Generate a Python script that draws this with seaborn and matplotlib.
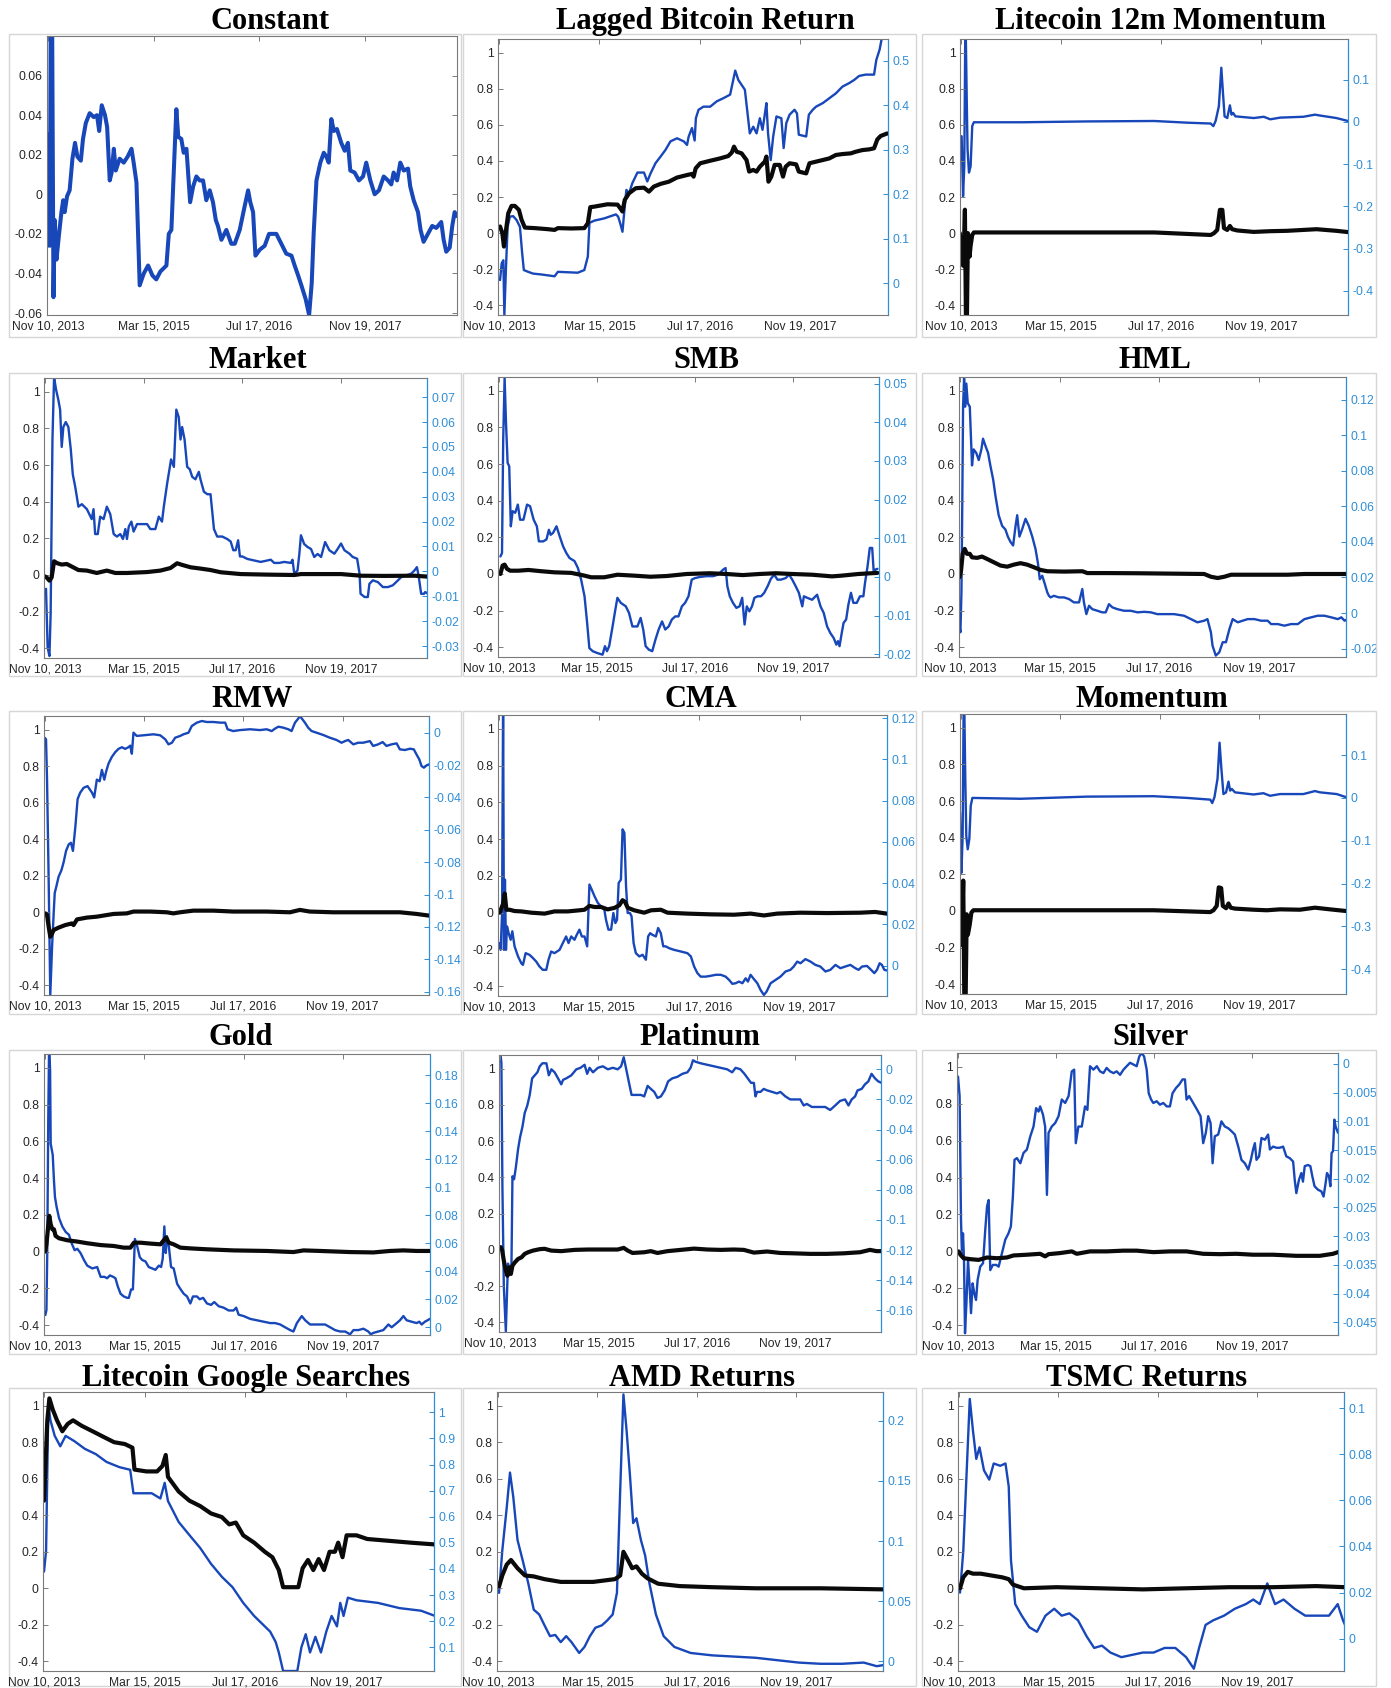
import matplotlib
matplotlib.use("Agg")
import matplotlib.pyplot as plt
import matplotlib.dates as mdates
from matplotlib.patches import Rectangle
from matplotlib.ticker import FuncFormatter
import pandas as pd
import seaborn as sns

# ---------------------------------------------------------------------------
# Data: (days since 10 Nov 2013, value) for every plotted series.
# "_left" series use the left axis (black), "_right" the right axis (blue).
# ---------------------------------------------------------------------------
START = pd.Timestamp("2013-11-10")
DATE_TICKS_DAYS = [0, 490, 980, 1470]
X_SPAN_DAYS = (-5, 1897)

constant_left = [
    (-8, 0.031), (-3, -0.026), (3, 0.028), (8, -0.026), (12, 0.085), (19, 0.085), (25, -0.052),
    (31, -0.013), (39, -0.033), (51, -0.020), (62, -0.009), (70, -0.003), (77, -0.009), (88, -0.001),
    (100, 0.002), (113, 0.018), (125, 0.026), (136, 0.019), (152, 0.017), (162, 0.028), (175, 0.036),
    (193, 0.041), (212, 0.039), (227, 0.040), (237, 0.032), (249, 0.045), (264, 0.040), (274, 0.034),
    (286, 0.007), (295, 0.011), (305, 0.023), (314, 0.012), (332, 0.018), (351, 0.016), (369, 0.019),
    (387, 0.023), (397, 0.016), (410, 0.006), (425, -0.046), (444, -0.040), (464, -0.036),
    (484, -0.041), (502, -0.043), (521, -0.039), (549, -0.036), (560, -0.020), (572, -0.018),
    (584, 0.014), (595, 0.043), (604, 0.029), (618, 0.028), (629, 0.021), (642, 0.023), (651, 0.009),
    (659, -0.004), (673, 0.004), (688, 0.009), (703, 0.007), (719, 0.007), (734, -0.003), (750, 0.002),
    (765, -0.004), (778, -0.013), (788, -0.016), (804, -0.023), (827, -0.018), (850, -0.025),
    (866, -0.025), (889, -0.018), (912, -0.006), (928, 0.002), (938, -0.004), (951, -0.009),
    (962, -0.031), (982, -0.028), (1005, -0.026), (1025, -0.020), (1059, -0.020), (1082, -0.025),
    (1105, -0.030), (1129, -0.031), (1144, -0.036), (1160, -0.041), (1175, -0.046), (1195, -0.053),
    (1211, -0.061), (1223, -0.045), (1232, -0.020), (1245, 0.007), (1263, 0.016), (1279, 0.021),
    (1291, 0.019), (1302, 0.016), (1314, 0.038), (1326, 0.032), (1340, 0.033), (1360, 0.026),
    (1376, 0.022), (1391, 0.026), (1402, 0.012), (1422, 0.011), (1442, 0.007), (1461, 0.009),
    (1476, 0.016), (1495, 0.007), (1515, 0.000), (1535, 0.002), (1557, 0.009), (1577, 0.007),
    (1592, 0.005), (1603, 0.011), (1619, 0.007), (1634, 0.016), (1650, 0.012), (1670, 0.013),
    (1680, 0.004), (1696, -0.003), (1716, -0.009), (1728, -0.018), (1742, -0.024), (1762, -0.020),
    (1782, -0.016), (1801, -0.017), (1824, -0.014), (1835, -0.023), (1847, -0.029), (1863, -0.027),
    (1875, -0.016), (1886, -0.009), (1897, -0.011),
]

lagged_btc_left = [
    (5, 0.037), (16, 0.0), (24, -0.074), (32, 0.0), (45, 0.11), (61, 0.151), (77, 0.151), (97, 0.129),
    (110, 0.074), (126, 0.031), (174, 0.028), (239, 0.022), (271, 0.018), (287, 0.028), (352, 0.026),
    (416, 0.028), (433, 0.055), (445, 0.144), (465, 0.147), (529, 0.16), (578, 0.158), (591, 0.138),
    (602, 0.12), (613, 0.184), (634, 0.221), (667, 0.249), (707, 0.252), (731, 0.23), (755, 0.258),
    (788, 0.273), (828, 0.285), (868, 0.308), (917, 0.322), (941, 0.328), (949, 0.313), (959, 0.359),
    (981, 0.387), (1030, 0.401), (1078, 0.414), (1118, 0.427), (1135, 0.446), (1146, 0.479),
    (1159, 0.451), (1183, 0.442), (1207, 0.405), (1220, 0.341), (1240, 0.35), (1256, 0.341),
    (1272, 0.368), (1296, 0.396), (1304, 0.424), (1314, 0.285), (1328, 0.313), (1344, 0.378),
    (1369, 0.378), (1385, 0.313), (1398, 0.368), (1417, 0.387), (1449, 0.381), (1462, 0.341),
    (1498, 0.331), (1514, 0.387), (1546, 0.396), (1579, 0.405), (1611, 0.414), (1643, 0.433),
    (1675, 0.438), (1716, 0.442), (1740, 0.451), (1772, 0.46), (1805, 0.464), (1829, 0.47),
    (1845, 0.519), (1861, 0.538), (1893, 0.552),
]
lagged_btc_right = [
    (5, 0.0075), (13, 0.045), (21, 0.052), (26, -0.071), (34, 0.037), (42, 0.127), (53, 0.15),
    (69, 0.151), (86, 0.142), (102, 0.127), (113, 0.067), (121, 0.03), (142, 0.026), (166, 0.022),
    (207, 0.020), (239, 0.018), (271, 0.016), (287, 0.026), (336, 0.025), (384, 0.024), (416, 0.030),
    (433, 0.06), (441, 0.136), (465, 0.141), (513, 0.146), (570, 0.155), (581, 0.15), (591, 0.135),
    (602, 0.116), (610, 0.157), (621, 0.21), (634, 0.202), (650, 0.225), (675, 0.249), (707, 0.249),
    (723, 0.229), (739, 0.247), (763, 0.27), (788, 0.285), (812, 0.30), (836, 0.319), (868, 0.326),
    (901, 0.319), (917, 0.311), (925, 0.33), (941, 0.349), (954, 0.321), (960, 0.371), (973, 0.39),
    (997, 0.397), (1030, 0.397), (1062, 0.409), (1094, 0.416), (1127, 0.424), (1139, 0.45),
    (1152, 0.478), (1167, 0.457), (1183, 0.446), (1199, 0.435), (1210, 0.39), (1223, 0.337),
    (1240, 0.352), (1256, 0.337), (1272, 0.371), (1285, 0.345), (1296, 0.379), (1304, 0.405),
    (1312, 0.337), (1325, 0.277), (1337, 0.33), (1353, 0.375), (1377, 0.371), (1388, 0.304),
    (1401, 0.36), (1417, 0.379), (1441, 0.39), (1453, 0.382), (1462, 0.334), (1498, 0.33),
    (1511, 0.379), (1530, 0.39), (1546, 0.397), (1579, 0.405), (1611, 0.416), (1643, 0.427),
    (1675, 0.442), (1708, 0.45), (1732, 0.457), (1756, 0.466), (1788, 0.469), (1829, 0.469),
    (1840, 0.502), (1856, 0.525), (1866, 0.549), (1885, 0.551),
]

ltc_mom12_left = [
    (-6, 0.0), (10, -0.18), (15, -0.04), (19, 0.13), (24, -0.46), (29, -0.46), (34, 0.0), (42, -0.13),
    (47, -0.07), (55, -0.01), (63, 0.004), (948, 0.004), (1224, -0.01), (1240, 0.0), (1256, 0.018),
    (1269, 0.129), (1281, 0.129), (1289, 0.028), (1305, 0.018), (1318, 0.04), (1329, 0.022),
    (1354, 0.015), (1435, 0.007), (1516, 0.011), (1597, 0.013), (1743, 0.022), (1840, 0.013),
    (1897, 0.006),
]
ltc_mom12_right = [
    (3, -0.034), (10, -0.176), (16, -0.105), (21, 0.22), (23, 0.22), (28, 0.053), (32, -0.065),
    (39, -0.12), (47, -0.105), (55, -0.01), (63, -0.001), (299, -0.001), (623, 0.001), (948, 0.002),
    (1110, -0.002), (1224, -0.004), (1237, -0.01), (1248, 0.002), (1264, 0.037), (1276, 0.128),
    (1284, 0.069), (1292, 0.013), (1305, 0.009), (1318, 0.039), (1326, 0.017), (1334, 0.021),
    (1345, 0.013), (1435, 0.009), (1484, 0.012), (1516, 0.006), (1565, 0.01), (1678, 0.012),
    (1735, 0.017), (1759, 0.015), (1840, 0.009), (1897, 0.002),
]

market_left = [
    (-8, -0.004), (8, -0.013), (22, -0.031), (33, -0.013), (45, 0.075), (61, 0.064), (83, 0.057),
    (108, 0.06), (133, 0.046), (166, 0.027), (208, 0.024), (257, 0.011), (307, 0.024), (349, 0.011),
    (407, 0.011), (507, 0.016), (573, 0.024), (623, 0.038), (656, 0.064), (681, 0.055), (723, 0.042),
    (772, 0.035), (822, 0.027), (872, 0.015), (972, 0.005), (1105, 0.002), (1238, 0.0), (1271, 0.005),
    (1354, 0.005), (1470, 0.005), (1570, -0.004), (1686, -0.005), (1835, -0.004), (1902, -0.009),
]
market_right = [
    (-3, -0.0083), (5, -0.007), (13, -0.0305), (22, -0.034), (28, -0.017), (37, 0.053), (45, 0.078),
    (55, 0.073), (66, 0.069), (75, 0.065), (83, 0.05), (91, 0.058), (103, 0.06), (116, 0.058),
    (128, 0.049), (138, 0.039), (150, 0.034), (166, 0.026), (183, 0.027), (208, 0.025), (232, 0.021),
    (241, 0.025), (249, 0.015), (262, 0.015), (274, 0.022), (291, 0.021), (307, 0.026), (324, 0.023),
    (341, 0.015), (357, 0.014), (374, 0.015), (387, 0.013), (399, 0.017), (407, 0.013), (416, 0.018),
    (429, 0.02), (440, 0.016), (457, 0.019), (482, 0.019), (507, 0.019), (523, 0.017), (548, 0.017),
    (565, 0.022), (581, 0.02), (590, 0.026), (606, 0.035), (626, 0.045), (640, 0.042), (652, 0.065),
    (664, 0.062), (673, 0.053), (681, 0.058), (693, 0.053), (706, 0.042), (719, 0.041), (731, 0.038),
    (747, 0.037), (764, 0.04), (772, 0.037), (789, 0.032), (806, 0.031), (822, 0.031), (839, 0.017),
    (855, 0.014), (880, 0.014), (905, 0.013), (922, 0.012), (935, 0.0085), (947, 0.0085),
    (959, 0.0125), (968, 0.006), (980, 0.006), (1005, 0.005), (1038, 0.0044), (1071, 0.0038),
    (1105, 0.0044), (1121, 0.0047), (1138, 0.0034), (1163, 0.0034), (1188, 0.0038), (1221, 0.0034),
    (1229, 0.0047), (1238, -0.001), (1254, 0.0004), (1263, 0.007), (1271, 0.0145), (1287, 0.011),
    (1304, 0.0098), (1321, 0.009), (1337, 0.0058), (1354, 0.007), (1371, 0.0058), (1391, 0.0118),
    (1412, 0.0085), (1437, 0.0071), (1454, 0.0091), (1470, 0.0112), (1487, 0.0085), (1512, 0.0071),
    (1528, 0.0058), (1550, 0.0051), (1562, -0.0009), (1567, -0.009), (1587, -0.0103),
    (1603, -0.0103), (1611, -0.005), (1628, -0.0036), (1653, -0.0043), (1678, -0.0063),
    (1703, -0.0063), (1727, -0.0056), (1744, -0.0043), (1769, -0.0023), (1794, -0.0016),
    (1819, -0.0009), (1835, 0.0004), (1847, 0.0017), (1855, -0.0016), (1868, -0.009), (1882, -0.009),
    (1888, -0.0083), (1902, -0.009),
]

smb_left = [
    (7, 0.0), (18, 0.046), (28, 0.051), (40, 0.028), (56, 0.018), (97, 0.018), (147, 0.022),
    (212, 0.015), (278, 0.009), (361, 0.006), (427, -0.009), (460, -0.018), (525, -0.018),
    (591, -0.004), (674, -0.009), (756, -0.015), (838, -0.011), (937, 0.0), (1052, 0.004), (1135, 0.0),
    (1217, -0.006), (1300, 0.0), (1382, 0.004), (1464, 0.0), (1563, -0.004), (1662, -0.013),
    (1711, -0.009), (1794, 0.0), (1889, 0.006),
]
smb_right = [
    (7, 0.0053), (15, 0.0062), (21, 0.0355), (28, 0.0515), (35, 0.0398), (43, 0.0295), (51, 0.0286),
    (59, 0.0131), (68, 0.017), (81, 0.0166), (94, 0.0187), (105, 0.0148), (122, 0.0148),
    (140, 0.0187), (155, 0.0183), (173, 0.0148), (189, 0.0131), (199, 0.0092), (221, 0.0092),
    (237, 0.0097), (249, 0.0122), (258, 0.0109), (270, 0.0114), (287, 0.0131), (303, 0.0105),
    (320, 0.0079), (336, 0.0062), (352, 0.0049), (377, 0.0041), (394, 0.0023), (410, -0.0007),
    (427, -0.005), (440, -0.0119), (451, -0.0184), (468, -0.0192), (492, -0.0197), (517, -0.0201),
    (529, -0.0179), (539, -0.0192), (550, -0.0179), (567, -0.0128), (578, -0.0093), (591, -0.0054),
    (608, -0.0067), (633, -0.0076), (649, -0.0093), (666, -0.0128), (691, -0.0128), (707, -0.0106),
    (720, -0.0136), (732, -0.0179), (748, -0.0188), (765, -0.0192), (781, -0.0162), (797, -0.0136),
    (814, -0.0115), (830, -0.0136), (847, -0.0128), (863, -0.011), (880, -0.0102), (896, -0.0102),
    (913, -0.0076), (929, -0.0067), (946, -0.005), (962, -0.0007), (978, -0.0003), (1003, 0.0),
    (1036, 0.0002), (1069, 0.0002), (1094, 0.0006), (1119, 0.0019), (1131, 0.0023),
    (1140, -0.0024), (1152, -0.005), (1168, -0.0067), (1185, -0.008), (1201, -0.0076),
    (1214, -0.0054), (1226, -0.0123), (1237, -0.0076), (1250, -0.0089), (1263, -0.0076),
    (1275, -0.0054), (1291, -0.005), (1308, -0.005), (1324, -0.0041), (1341, -0.0024),
    (1357, -0.0005), (1374, 0.0006), (1390, -0.0007), (1407, -0.0007), (1431, -0.0003),
    (1448, 0.0006), (1464, -0.0007), (1481, -0.0024), (1497, -0.0041), (1514, -0.0076),
    (1522, -0.005), (1539, -0.0054), (1563, -0.0059), (1588, -0.0046), (1605, -0.0076),
    (1621, -0.0093), (1638, -0.0128), (1654, -0.0145), (1671, -0.0158), (1684, -0.0175),
    (1692, -0.0166), (1700, -0.0179), (1711, -0.0145), (1720, -0.0119), (1733, -0.011),
    (1744, -0.0072), (1757, -0.0041), (1769, -0.0067), (1786, -0.0067), (1802, -0.005),
    (1819, -0.005), (1827, -0.0016), (1840, 0.0028), (1851, 0.0075), (1863, 0.0075), (1871, 0.001),
    (1879, 0.0019), (1889, 0.0021),
]

hml_left = [
    (-3, -0.018), (5, 0.018), (13, 0.11), (23, 0.137), (34, 0.11), (48, 0.11), (59, 0.091),
    (84, 0.088), (108, 0.095), (133, 0.082), (166, 0.064), (199, 0.046), (232, 0.04), (264, 0.051),
    (297, 0.059), (330, 0.051), (363, 0.037), (396, 0.022), (429, 0.015), (511, 0.013), (601, 0.015),
    (626, 0.005), (724, 0.005), (872, 0.004), (1036, 0.002), (1200, 0.0), (1233, -0.015),
    (1266, -0.022), (1299, -0.015), (1332, -0.004), (1447, -0.004), (1611, -0.004), (1693, 0.0),
    (1901, 0.0),
]
hml_right = [
    (-3, -0.0071), (2, -0.0108), (7, 0.0116), (11, 0.0602), (15, 0.116), (20, 0.132), (25, 0.116),
    (31, 0.129), (38, 0.118), (48, 0.116), (54, 0.098), (59, 0.083), (67, 0.092), (80, 0.09),
    (92, 0.086), (105, 0.092), (113, 0.098), (125, 0.094), (138, 0.09), (149, 0.083), (163, 0.075),
    (174, 0.066), (190, 0.055), (207, 0.049), (223, 0.047), (235, 0.043), (248, 0.04), (261, 0.038),
    (273, 0.049), (281, 0.055), (292, 0.043), (305, 0.047), (322, 0.053), (338, 0.049), (355, 0.043),
    (371, 0.036), (383, 0.028), (392, 0.019), (404, 0.021), (415, 0.017), (429, 0.0116),
    (437, 0.0097), (445, 0.0088), (461, 0.0097), (486, 0.0088), (511, 0.0088), (535, 0.0079),
    (560, 0.006), (585, 0.006), (601, 0.0135), (609, 0.006), (621, -0.0006), (634, 0.0041),
    (650, 0.0022), (675, 0.0013), (699, 0.0004), (716, 0.0004), (732, 0.005), (749, 0.0032),
    (773, 0.0022), (806, 0.0013), (839, 0.0013), (872, 0.0004), (905, 0.0007), (938, 0.0004),
    (970, -0.0006), (1003, -0.0006), (1052, -0.0006), (1101, -0.0015), (1135, -0.0034),
    (1167, -0.0052), (1200, -0.0043), (1216, -0.0034), (1233, -0.0108), (1241, -0.0183),
    (1257, -0.0239), (1274, -0.0221), (1291, -0.0164), (1307, -0.0164), (1324, -0.009),
    (1340, -0.0034), (1365, -0.0052), (1389, -0.0043), (1414, -0.0034), (1447, -0.0034),
    (1480, -0.0043), (1512, -0.0043), (1529, -0.0062), (1562, -0.0062), (1594, -0.0071),
    (1627, -0.0062), (1660, -0.0062), (1693, -0.0034), (1726, -0.0024), (1758, -0.0015),
    (1791, -0.0015), (1824, -0.0024), (1857, -0.0034), (1874, -0.0024), (1890, -0.0043),
    (1901, -0.0037),
]

rmw_left = [
    (2, -0.006), (10, -0.015), (18, -0.079), (26, -0.134), (35, -0.116), (43, -0.097), (67, -0.084),
    (100, -0.07), (133, -0.061), (141, -0.07), (158, -0.039), (207, -0.029), (256, -0.024),
    (289, -0.018), (339, -0.009), (404, -0.006), (437, 0.004), (520, 0.004), (602, 0.0),
    (634, -0.006), (667, 0.0), (733, 0.009), (832, 0.009), (930, 0.004), (1095, 0.004), (1210, 0.0),
    (1259, 0.013), (1308, 0.004), (1424, 0.0), (1588, 0.0), (1753, 0.0), (1835, -0.009),
    (1896, -0.018),
]
rmw_right = [
    (-2, -0.0031), (5, -0.0041), (10, -0.0289), (18, -0.0907), (26, -0.1619), (35, -0.132),
    (43, -0.111), (48, -0.099), (56, -0.095), (67, -0.089), (81, -0.085), (92, -0.08), (104, -0.073),
    (117, -0.069), (128, -0.068), (138, -0.073), (150, -0.058), (161, -0.041), (174, -0.037),
    (191, -0.034), (210, -0.033), (232, -0.037), (243, -0.04), (256, -0.029), (270, -0.03),
    (281, -0.023), (293, -0.029), (302, -0.024), (314, -0.019), (330, -0.015), (347, -0.012),
    (363, -0.01), (380, -0.009), (396, -0.01), (412, -0.009), (421, -0.008), (429, -0.013),
    (437, 0.0), (453, -0.002), (487, -0.0016), (536, -0.001), (569, -0.0016), (594, -0.0041),
    (610, -0.0072), (627, -0.0062), (643, -0.0031), (668, -0.002), (684, -0.001), (709, 0.0),
    (725, 0.0041), (750, 0.0062), (775, 0.0072), (799, 0.0066), (832, 0.0066), (865, 0.0062),
    (890, 0.0062), (902, 0.0021), (930, 0.001), (963, 0.0016), (1013, 0.0021), (1062, 0.0016),
    (1095, 0.0021), (1120, 0.001), (1136, 0.0025), (1153, 0.0037), (1177, 0.0031), (1202, 0.0021),
    (1218, 0.001), (1235, 0.0062), (1251, 0.0087), (1259, 0.0103), (1272, 0.0082), (1284, 0.0062),
    (1300, 0.0031), (1317, 0.001), (1341, 0.0), (1374, -0.0014), (1407, -0.0031), (1440, -0.0045),
    (1465, -0.0062), (1482, -0.0052), (1498, -0.0045), (1523, -0.0072), (1547, -0.0062),
    (1572, -0.0062), (1605, -0.0052), (1621, -0.0082), (1646, -0.0072), (1668, -0.0058),
    (1687, -0.0082), (1712, -0.0072), (1737, -0.0066), (1753, -0.0103), (1778, -0.0107),
    (1803, -0.0099), (1822, -0.0103), (1835, -0.0134), (1849, -0.0165), (1860, -0.0206),
    (1872, -0.0216), (1885, -0.0202), (1896, -0.0196),
]

cma_left = [
    (3, 0.0), (20, 0.049), (28, 0.104), (36, 0.016), (52, 0.016), (76, 0.009), (109, 0.007),
    (158, 0.0), (223, -0.005), (271, 0.007), (336, 0.007), (393, 0.013), (418, 0.016), (442, 0.037),
    (467, 0.031), (499, 0.031), (531, 0.018), (564, 0.026), (588, 0.04), (604, 0.068), (616, 0.059),
    (629, 0.027), (661, 0.013), (710, 0.0), (743, 0.013), (791, 0.016), (824, 0.0), (921, -0.005),
    (1035, -0.009), (1149, -0.011), (1230, -0.005), (1295, -0.015), (1360, -0.005), (1474, 0.0),
    (1604, -0.002), (1767, 0.0), (1839, 0.004), (1896, -0.005),
]
cma_right = [
    (3, 0.0109), (8, 0.0076), (15, 0.0255), (20, 0.13), (24, 0.0076), (29, 0.0417), (34, 0.0076),
    (39, 0.019), (47, 0.0157), (57, 0.0125), (65, 0.0166), (76, 0.0093), (93, 0.0044), (109, 0.0011),
    (117, 0.0003), (130, 0.006), (149, 0.0052), (166, 0.0036), (182, 0.0019), (198, -0.0005),
    (214, -0.0021), (231, -0.0021), (242, 0.0028), (255, 0.0068), (271, 0.006), (296, 0.0076),
    (312, 0.0109), (328, 0.0141), (340, 0.0109), (353, 0.0141), (369, 0.0125), (380, 0.0149),
    (393, 0.0174), (405, 0.0141), (418, 0.0141), (431, 0.0093), (442, 0.0393), (453, 0.0369),
    (467, 0.0336), (483, 0.0304), (499, 0.0287), (515, 0.0271), (523, 0.0222), (535, 0.0174),
    (548, 0.0174), (559, 0.0255), (569, 0.0206), (577, 0.0222), (585, 0.0401), (596, 0.0417),
    (604, 0.0661), (613, 0.0644), (621, 0.0385), (629, 0.0255), (640, 0.0255), (648, 0.0239),
    (658, 0.0109), (669, 0.006), (686, 0.0044), (702, 0.0052), (718, 0.0028), (729, 0.0141),
    (739, 0.0157), (750, 0.0149), (767, 0.0141), (778, 0.0182), (791, 0.0157), (803, 0.0093),
    (815, 0.0093), (832, 0.0084), (856, 0.0076), (889, 0.0068), (921, 0.006), (938, 0.0044),
    (954, -0.0005), (970, -0.0037), (986, -0.0054), (1011, -0.0054), (1035, -0.005), (1060, -0.0045),
    (1084, -0.0045), (1108, -0.0054), (1125, -0.007), (1141, -0.0089), (1157, -0.0086),
    (1173, -0.0078), (1190, -0.0086), (1206, -0.0062), (1217, -0.0078), (1230, -0.0045),
    (1243, -0.0062), (1263, -0.0086), (1279, -0.0119), (1295, -0.0143), (1308, -0.0127),
    (1328, -0.0086), (1352, -0.007), (1376, -0.0054), (1401, -0.0029), (1425, -0.0021),
    (1441, -0.0005), (1458, 0.0019), (1474, 0.0011), (1498, 0.0031), (1523, 0.0019), (1547, 0.0003),
    (1571, -0.0005), (1596, -0.0029), (1620, -0.0021), (1645, 0.0003), (1669, -0.0013),
    (1693, -0.0005), (1718, 0.0003), (1742, -0.0013), (1758, -0.0021), (1775, -0.0005),
    (1799, -0.0002), (1819, -0.0021), (1835, -0.0037), (1848, -0.0021), (1861, 0.0011),
    (1872, 0.0003), (1884, -0.0021), (1896, -0.0024),
]

momentum_left = [
    (-5, 0.0), (0, -0.185), (7, -0.018), (11, 0.166), (16, -0.46), (23, -0.46), (28, -0.018),
    (34, -0.129), (43, -0.074), (51, -0.009), (61, 0.004), (949, 0.004), (1228, -0.006), (1244, 0.004),
    (1260, 0.028), (1270, 0.129), (1282, 0.125), (1290, 0.028), (1306, 0.015), (1318, 0.041),
    (1329, 0.018), (1350, 0.013), (1441, 0.007), (1507, 0.004), (1572, 0.009), (1670, 0.007),
    (1744, 0.018), (1818, 0.009), (1896, 0.0),
]
momentum_right = [
    (-5, -0.034), (2, -0.175), (8, -0.089), (13, 0.22), (16, 0.22), (21, 0.045), (26, -0.089),
    (33, -0.12), (41, -0.096), (48, -0.018), (56, 0.0), (293, -0.002), (621, 0.003), (949, 0.004),
    (1113, 0.0), (1228, -0.004), (1238, -0.012), (1249, 0.002), (1264, 0.045), (1274, 0.129),
    (1283, 0.068), (1293, 0.009), (1306, 0.013), (1318, 0.038), (1326, 0.017), (1334, 0.021),
    (1350, 0.013), (1441, 0.008), (1490, 0.011), (1523, 0.005), (1572, 0.009), (1687, 0.009),
    (1744, 0.016), (1769, 0.013), (1851, 0.009), (1896, 0.002),
]

gold_left = [
    (0, 0.0), (7, 0.04), (15, 0.131), (21, 0.195), (28, 0.149), (36, 0.122), (44, 0.122), (52, 0.086),
    (69, 0.073), (110, 0.062), (159, 0.055), (208, 0.046), (274, 0.036), (339, 0.031), (388, 0.022),
    (421, 0.022), (438, 0.049), (470, 0.049), (520, 0.044), (569, 0.04), (585, 0.062), (597, 0.077),
    (610, 0.049), (634, 0.04), (667, 0.022), (716, 0.018), (798, 0.013), (929, 0.007), (1093, 0.004),
    (1224, -0.002), (1274, 0.007), (1356, 0.004), (1503, -0.002), (1618, -0.004), (1700, 0.004),
    (1766, 0.007), (1831, 0.004), (1896, 0.004),
]
gold_right = [
    (2, 0.0088), (7, 0.0124), (11, 0.0528), (16, 0.148), (20, 0.2), (25, 0.184), (28, 0.131),
    (33, 0.127), (38, 0.123), (44, 0.105), (49, 0.093), (57, 0.086), (69, 0.078), (85, 0.072),
    (102, 0.068), (118, 0.066), (131, 0.06), (146, 0.055), (159, 0.056), (175, 0.053), (192, 0.048),
    (208, 0.044), (233, 0.042), (257, 0.043), (274, 0.036), (293, 0.036), (306, 0.035), (320, 0.037),
    (336, 0.036), (347, 0.035), (359, 0.029), (372, 0.024), (388, 0.022), (405, 0.021), (413, 0.021),
    (424, 0.027), (433, 0.027), (443, 0.063), (454, 0.058), (467, 0.05), (479, 0.048), (495, 0.047),
    (511, 0.043), (528, 0.042), (544, 0.041), (561, 0.044), (572, 0.043), (580, 0.049), (588, 0.072),
    (595, 0.053), (601, 0.065), (610, 0.058), (621, 0.043), (634, 0.042), (651, 0.031), (664, 0.028),
    (683, 0.024), (700, 0.022), (716, 0.017), (729, 0.022), (749, 0.022), (762, 0.02), (779, 0.021),
    (798, 0.017), (818, 0.016), (834, 0.018), (856, 0.015), (880, 0.014), (905, 0.012), (929, 0.012),
    (942, 0.014), (954, 0.009), (979, 0.008), (1011, 0.006), (1044, 0.005), (1077, 0.004),
    (1110, 0.003), (1134, 0.003), (1159, 0.002), (1183, 0.0), (1208, -0.002), (1224, -0.003),
    (1241, 0.003), (1265, 0.008), (1282, 0.005), (1306, 0.002), (1331, 0.002), (1356, 0.002),
    (1380, 0.002), (1405, 0.0), (1429, -0.002), (1454, -0.003), (1479, -0.003), (1503, -0.005),
    (1520, -0.002), (1544, -0.002), (1569, -0.001), (1593, -0.003), (1605, -0.005), (1618, -0.004),
    (1642, -0.003), (1667, -0.002), (1692, 0.002), (1708, 0.0), (1733, 0.003), (1749, 0.005),
    (1766, 0.008), (1782, 0.005), (1806, 0.004), (1831, 0.003), (1844, 0.004), (1856, 0.002),
    (1872, 0.004), (1885, 0.005), (1896, 0.006),
]

platinum_left = [
    (4, 0.015), (11, -0.004), (19, -0.059), (29, -0.115), (37, -0.143), (45, -0.096), (54, -0.133),
    (62, -0.087), (74, -0.069), (90, -0.05), (107, -0.041), (123, -0.022), (140, -0.013),
    (164, -0.004), (198, 0.004), (222, 0.006), (255, -0.004), (305, -0.007), (371, 0.0), (438, 0.002),
    (520, 0.002), (586, 0.002), (616, 0.011), (636, -0.004), (660, -0.017), (718, -0.013),
    (751, -0.007), (784, -0.017), (834, -0.007), (900, 0.0), (966, 0.007), (1033, 0.002), (1099, 0.0),
    (1165, 0.002), (1214, 0.0), (1264, -0.015), (1330, -0.009), (1396, -0.017), (1462, -0.019),
    (1545, -0.022), (1627, -0.022), (1710, -0.019), (1793, -0.013), (1842, 0.0), (1875, -0.007),
    (1900, -0.007),
]
platinum_right = [
    (3, 0.0095), (7, 0.004), (12, -0.078), (19, -0.144), (29, -0.174), (36, -0.144), (40, -0.129),
    (49, -0.135), (57, -0.131), (62, -0.071), (70, -0.073), (79, -0.065), (90, -0.053), (100, -0.045),
    (112, -0.038), (123, -0.029), (136, -0.024), (148, -0.017), (160, -0.006), (173, -0.004),
    (186, -0.002), (198, 0.002), (211, 0.004), (231, 0.004), (243, -0.004), (256, 0.0), (272, -0.002),
    (289, -0.006), (305, -0.01), (314, -0.007), (330, -0.006), (355, -0.004), (380, 0.0), (401, 0.001),
    (421, 0.003), (434, -0.003), (446, 0.001), (463, -0.002), (487, 0.001), (512, 0.002), (537, 0.0),
    (562, 0.001), (586, 0.0), (603, 0.002), (616, 0.008), (627, 0.001), (644, -0.01), (655, -0.017),
    (677, -0.017), (702, -0.017), (718, -0.018), (735, -0.011), (751, -0.013), (768, -0.015),
    (784, -0.019), (801, -0.018), (820, -0.014), (837, -0.008), (858, -0.006), (883, -0.005),
    (908, -0.003), (933, -0.002), (949, 0.001), (961, 0.006), (974, 0.005), (999, 0.004),
    (1032, 0.003), (1065, 0.002), (1098, 0.001), (1131, 0.0), (1156, -0.002), (1173, 0.001),
    (1197, 0.0), (1217, -0.003), (1239, -0.007), (1250, -0.009), (1264, -0.009), (1272, -0.018),
    (1280, -0.015), (1297, -0.015), (1313, -0.013), (1330, -0.014), (1355, -0.015), (1379, -0.016),
    (1396, -0.015), (1421, -0.018), (1445, -0.02), (1470, -0.02), (1495, -0.02), (1512, -0.024),
    (1528, -0.023), (1553, -0.025), (1586, -0.025), (1619, -0.025), (1644, -0.027), (1669, -0.024),
    (1693, -0.021), (1718, -0.02), (1735, -0.024), (1751, -0.02), (1768, -0.018), (1780, -0.014),
    (1801, -0.013), (1817, -0.01), (1834, -0.008), (1850, -0.003), (1867, -0.006), (1883, -0.008),
    (1900, -0.009),
]

silver_left = [
    (3, 0.0), (12, -0.018), (28, -0.037), (61, -0.042), (103, -0.046), (145, -0.033), (194, -0.037),
    (244, -0.033), (277, -0.022), (344, -0.018), (410, -0.013), (435, -0.027), (452, -0.015),
    (510, -0.009), (568, 0.0), (593, -0.013), (659, 0.0), (742, 0.0), (825, 0.004), (892, 0.004),
    (975, -0.004), (1058, 0.0), (1141, 0.0), (1224, -0.013), (1307, -0.015), (1390, -0.013),
    (1473, -0.018), (1573, -0.018), (1689, -0.024), (1806, -0.024), (1872, -0.013), (1897, -0.004),
]
silver_right = [
    (0, -0.0022), (8, -0.0056), (15, -0.0272), (20, -0.0335), (25, -0.0295), (30, -0.0341),
    (35, -0.0469), (42, -0.0417), (50, -0.0341), (58, -0.0388), (65, -0.0434), (73, -0.0382),
    (81, -0.0399), (90, -0.0411), (98, -0.0376), (111, -0.0353), (125, -0.0347), (136, -0.0289),
    (145, -0.0248), (153, -0.0237), (161, -0.0359), (174, -0.035), (191, -0.035), (203, -0.0353),
    (219, -0.033), (236, -0.0306), (252, -0.0295), (264, -0.0283), (274, -0.0231), (282, -0.0167),
    (294, -0.0164), (311, -0.0173), (327, -0.0155), (344, -0.0149), (361, -0.0126), (377, -0.0109),
    (390, -0.0077), (402, -0.0083), (410, -0.0074), (424, -0.0088), (435, -0.0109), (444, -0.0228),
    (452, -0.012), (468, -0.0109), (485, -0.0103), (502, -0.0091), (518, -0.0062), (535, -0.0068),
    (552, -0.0056), (568, -0.0013), (580, -0.001), (588, -0.0138), (601, -0.0109), (618, -0.0109),
    (634, -0.0074), (646, -0.008), (659, -0.0004), (676, -0.001), (693, -0.0004), (709, -0.0013),
    (726, -0.0016), (742, -0.0007), (759, -0.0013), (776, -0.0016), (792, -0.0013), (809, -0.0019),
    (826, -0.001), (842, -0.0004), (859, 0.0002), (875, -0.0001), (892, -0.0004), (905, 0.0013),
    (917, 0.0019), (929, 0.0013), (942, -0.001), (952, -0.0051), (964, -0.0062), (975, -0.0068),
    (992, -0.0065), (1008, -0.0071), (1025, -0.0068), (1042, -0.0074), (1058, -0.0074),
    (1071, -0.0051), (1088, -0.0042), (1104, -0.0036), (1121, -0.0027), (1133, -0.0027),
    (1141, -0.0062), (1154, -0.0056), (1174, -0.0068), (1194, -0.008), (1211, -0.0091),
    (1224, -0.0138), (1237, -0.012), (1249, -0.0091), (1261, -0.0103), (1271, -0.0173),
    (1282, -0.0126), (1299, -0.0123), (1315, -0.01), (1332, -0.0109), (1349, -0.0112),
    (1365, -0.0117), (1382, -0.0123), (1399, -0.0144), (1415, -0.0167), (1432, -0.0173),
    (1449, -0.0184), (1462, -0.0167), (1473, -0.0149), (1482, -0.0138), (1490, -0.0167),
    (1503, -0.0161), (1515, -0.0129), (1532, -0.0132), (1548, -0.0123), (1557, -0.0149),
    (1573, -0.0144), (1590, -0.0146), (1606, -0.0146), (1623, -0.0144), (1639, -0.0161),
    (1656, -0.0164), (1673, -0.017), (1681, -0.0202), (1689, -0.0225), (1702, -0.0202),
    (1714, -0.019), (1722, -0.0205), (1731, -0.0178), (1747, -0.0176), (1759, -0.0178),
    (1769, -0.0196), (1780, -0.0213), (1797, -0.0219), (1814, -0.0222), (1825, -0.0231),
    (1835, -0.0208), (1842, -0.019), (1852, -0.0196), (1859, -0.0213), (1865, -0.0155),
    (1872, -0.0152), (1879, -0.0097), (1885, -0.0109), (1897, -0.012),
]

ltc_google_left = [
    (0, 0.48), (16, 0.92), (26, 1.04), (42, 0.98), (63, 0.92), (89, 0.86), (115, 0.9), (141, 0.92),
    (183, 0.89), (236, 0.86), (288, 0.83), (341, 0.8), (393, 0.79), (430, 0.77), (440, 0.65),
    (498, 0.64), (550, 0.64), (576, 0.67), (592, 0.73), (603, 0.61), (655, 0.53), (707, 0.48),
    (760, 0.45), (812, 0.41), (865, 0.39), (901, 0.35), (933, 0.36), (969, 0.29), (1022, 0.25),
    (1074, 0.2), (1111, 0.17), (1142, 0.1), (1163, 0.006), (1205, 0.006), (1237, 0.006), (1258, 0.11),
    (1284, 0.155), (1310, 0.1), (1336, 0.16), (1362, 0.1), (1389, 0.2), (1415, 0.2), (1431, 0.25),
    (1452, 0.17), (1472, 0.29), (1520, 0.29), (1572, 0.27), (1677, 0.26), (1782, 0.25), (1902, 0.24),
]
ltc_google_right = [
    (0, 0.39), (10, 0.47), (21, 1.03), (31, 0.97), (52, 0.91), (79, 0.87), (105, 0.91), (147, 0.89),
    (199, 0.86), (252, 0.84), (304, 0.81), (367, 0.79), (419, 0.78), (435, 0.69), (472, 0.69),
    (524, 0.69), (566, 0.67), (587, 0.73), (603, 0.66), (655, 0.58), (707, 0.53), (760, 0.48),
    (812, 0.42), (865, 0.37), (917, 0.33), (969, 0.27), (1022, 0.22), (1074, 0.18), (1100, 0.16),
    (1127, 0.12), (1142, 0.08), (1163, 0.009), (1232, 0.009), (1252, 0.1), (1273, 0.15), (1294, 0.08),
    (1320, 0.14), (1347, 0.08), (1373, 0.16), (1399, 0.22), (1425, 0.18), (1441, 0.27), (1457, 0.22),
    (1478, 0.29), (1520, 0.28), (1624, 0.27), (1729, 0.25), (1834, 0.24), (1902, 0.22),
]

amd_left = [
    (5, 0.01), (21, 0.07), (43, 0.13), (64, 0.155), (96, 0.11), (133, 0.07), (176, 0.065),
    (229, 0.05), (309, 0.035), (389, 0.035), (469, 0.035), (576, 0.05), (602, 0.07), (618, 0.2),
    (640, 0.155), (661, 0.11), (682, 0.12), (709, 0.08), (736, 0.055), (789, 0.025), (896, 0.012),
    (1055, 0.006), (1269, 0.0), (1588, 0.0), (1902, -0.006),
]
amd_right = [
    (5, 0.057), (21, 0.092), (43, 0.128), (59, 0.157), (75, 0.137), (96, 0.101), (123, 0.083),
    (149, 0.065), (176, 0.043), (203, 0.039), (229, 0.03), (256, 0.021), (282, 0.022), (309, 0.016),
    (336, 0.021), (362, 0.016), (400, 0.007), (426, 0.012), (453, 0.021), (480, 0.028), (512, 0.03),
    (538, 0.034), (565, 0.039), (586, 0.057), (602, 0.142), (618, 0.222), (634, 0.191), (650, 0.155),
    (666, 0.115), (682, 0.119), (704, 0.101), (725, 0.088), (746, 0.065), (778, 0.039), (816, 0.021),
    (869, 0.012), (949, 0.007), (1055, 0.005), (1162, 0.004), (1269, 0.003), (1375, 0.001),
    (1482, -0.001), (1588, -0.002), (1695, -0.002), (1802, -0.001), (1866, -0.004), (1902, -0.003),
]

tsmc_left = [
    (5, 0.0), (21, 0.06), (43, 0.09), (69, 0.08), (107, 0.08), (160, 0.07), (213, 0.06), (245, 0.05),
    (266, 0.02), (320, 0.0), (480, 0.006), (693, 0.0), (906, -0.006), (1119, 0.0), (1333, 0.006),
    (1546, 0.006), (1759, 0.012), (1902, 0.006),
]
tsmc_right = [
    (5, 0.02), (21, 0.038), (37, 0.071), (53, 0.104), (69, 0.09), (85, 0.078), (101, 0.083),
    (123, 0.073), (149, 0.069), (171, 0.076), (203, 0.075), (229, 0.076), (245, 0.066), (256, 0.034),
    (277, 0.015), (309, 0.01), (346, 0.005), (384, 0.003), (426, 0.01), (469, 0.013), (506, 0.01),
    (544, 0.011), (586, 0.008), (629, 0.001), (666, -0.004), (704, -0.003), (746, -0.006),
    (800, -0.008), (853, -0.007), (906, -0.006), (959, -0.006), (1013, -0.004), (1066, -0.004),
    (1119, -0.008), (1157, -0.013), (1183, -0.004), (1215, 0.006), (1253, 0.008), (1306, 0.01),
    (1359, 0.013), (1413, 0.015), (1450, 0.017), (1482, 0.015), (1519, 0.024), (1557, 0.015),
    (1599, 0.017), (1653, 0.013), (1706, 0.01), (1770, 0.01), (1823, 0.01), (1866, 0.015),
    (1892, 0.008), (1902, 0.006),
]

TITLES = [
    "Constant", "Lagged Bitcoin Return", "Litecoin 12m Momentum",
    "Market", "SMB", "HML",
    "RMW", "CMA", "Momentum",
    "Gold", "Platinum", "Silver",
    "Litecoin Google Searches", "AMD Returns", "TSMC Returns",
]
LEFT_SERIES = [
    constant_left, lagged_btc_left, ltc_mom12_left,
    market_left, smb_left, hml_left,
    rmw_left, cma_left, momentum_left,
    gold_left, platinum_left, silver_left,
    ltc_google_left, amd_left, tsmc_left,
]
RIGHT_SERIES = [
    None, lagged_btc_right, ltc_mom12_right,
    market_right, smb_right, hml_right,
    rmw_right, cma_right, momentum_right,
    gold_right, platinum_right, silver_right,
    ltc_google_right, amd_right, tsmc_right,
]

LEFT_TICKS = [-0.4, -0.2, 0, 0.2, 0.4, 0.6, 0.8, 1]
CONSTANT_TICKS = [-0.06, -0.04, -0.02, 0, 0.02, 0.04, 0.06]
RIGHT_TICKS = [
    None,
    [0, 0.1, 0.2, 0.3, 0.4, 0.5],
    [-0.4, -0.3, -0.2, -0.1, 0, 0.1],
    [-0.03, -0.02, -0.01, 0, 0.01, 0.02, 0.03, 0.04, 0.05, 0.06, 0.07],
    [-0.02, -0.01, 0, 0.01, 0.02, 0.03, 0.04, 0.05],
    [-0.02, 0, 0.02, 0.04, 0.06, 0.08, 0.1, 0.12],
    [-0.16, -0.14, -0.12, -0.1, -0.08, -0.06, -0.04, -0.02, 0],
    [0, 0.02, 0.04, 0.06, 0.08, 0.1, 0.12],
    [-0.4, -0.3, -0.2, -0.1, 0, 0.1],
    [0, 0.02, 0.04, 0.06, 0.08, 0.1, 0.12, 0.14, 0.16, 0.18],
    [-0.16, -0.14, -0.12, -0.1, -0.08, -0.06, -0.04, -0.02, 0],
    [-0.045, -0.04, -0.035, -0.03, -0.025, -0.02, -0.015, -0.01, -0.005, 0],
    [0.1, 0.2, 0.3, 0.4, 0.5, 0.6, 0.7, 0.8, 0.9, 1],
    [0, 0.05, 0.1, 0.15, 0.2],
    [0, 0.02, 0.04, 0.06, 0.08, 0.1],
]

# ---------------------------------------------------------------------------
# Layout (pixels on a 1391 x 1688 canvas) and styling
# ---------------------------------------------------------------------------
W, H = 1391, 1688
LEFT_LIMITS = (-0.453, 1.075)
CONSTANT_LIMITS = (-0.061, 0.080)
RIGHT_LIMITS = [
    None, (-0.071, 0.549), (-0.457, 0.196),
    (-0.0348, 0.0777), (-0.0207, 0.0517), (-0.0247, 0.1327),
    (-0.162, 0.0103), (-0.0148, 0.1216), (-0.458, 0.196),
    (-0.0055, 0.195), (-0.1744, 0.0095), (-0.0472, 0.0019),
    (0.009, 1.078), (-0.008, 0.224), (-0.014, 0.107),
]
AXES_PX = [
    (47, 36, 457, 315), (498, 39, 888, 315), (960, 39, 1348, 315),
    (44, 378, 427, 658), (498, 377, 879, 657), (959, 377, 1346, 657),
    (44, 716, 429, 995), (498, 715, 887, 996), (960, 714, 1346, 994),
    (44, 1054, 430, 1335), (499, 1055, 881, 1332), (957, 1053, 1338, 1335),
    (43, 1392, 434, 1671), (497, 1392, 883, 1671), (958, 1392, 1344, 1671),
]
TITLE_X = [270, 705, 1160, 258, 706, 1155, 252, 701, 1152, 241, 700, 1150, 246, 702, 1147]
TITLE_BASELINE = [29, 368, 707, 1045, 1386]
FRAME_COLS = [(9, 461), (463, 916), (922, 1376)]
FRAME_ROWS = [(34, 337), (373, 676), (711, 1014), (1050, 1354), (1388, 1686)]

BLUE = "#1747b9"
RIGHT_AXIS = "#2f8ed6"
BLACK = "#0a0a0a"
FRAME = "#7a7a7a"
TICK_TEXT = "#262626"
TICK_SIZE = 8.7

sns.set_style("white")
plt.rcParams["font.family"] = ["Liberation Sans", "DejaVu Sans"]


def num_label(v, _pos=None):
    v = round(v, 4)
    if v == 0:
        return "0"
    return f"{v:g}"


def draw_series(ax, pairs, color, lw):
    frame = pd.DataFrame(pairs, columns=["day", "value"])
    frame["date"] = START + pd.to_timedelta(frame["day"], unit="D")
    sns.lineplot(data=frame, x="date", y="value", ax=ax, color=color, linewidth=lw,
                 estimator=None, sort=False, legend=False)
    ax.set_xlabel("")
    ax.set_ylabel("")


fig = plt.figure(figsize=(W / 100, H / 100), dpi=100)
fig.patch.set_facecolor("white")

# light outlines around each panel
for (fy0, fy1) in FRAME_ROWS:
    for (fx0, fx1) in FRAME_COLS:
        fig.add_artist(Rectangle((fx0 / W, 1 - fy1 / H), (fx1 - fx0) / W, (fy1 - fy0) / H,
                                 transform=fig.transFigure, fill=False,
                                 edgecolor="#d6d6d6", linewidth=1.0))

date_ticks = [START + pd.Timedelta(days=d) for d in DATE_TICKS_DAYS]
x_lo = START + pd.Timedelta(days=X_SPAN_DAYS[0])
x_hi = START + pd.Timedelta(days=X_SPAN_DAYS[1])

for i, title in enumerate(TITLES):
    x0, y0, x1, y1 = AXES_PX[i]
    ax = fig.add_axes([x0 / W, 1 - y1 / H, (x1 - x0) / W, (y1 - y0) / H])
    ax.set_facecolor("white")

    if RIGHT_SERIES[i] is None:
        draw_series(ax, LEFT_SERIES[i], BLUE, 2.9)
        ax.set_ylim(*CONSTANT_LIMITS)
        ax.set_yticks(CONSTANT_TICKS)
        for side in ("left", "right", "top", "bottom"):
            ax.spines[side].set_color(FRAME)
            ax.spines[side].set_linewidth(0.8)
        ax.tick_params(axis="y", right=True, labelright=False)
    else:
        ax2 = ax.twinx()
        draw_series(ax2, RIGHT_SERIES[i], BLUE, 1.7)
        draw_series(ax, LEFT_SERIES[i], BLACK, 3.0)
        ax.set_zorder(ax2.get_zorder() + 1)
        ax.patch.set_visible(False)
        ax.set_ylim(*LEFT_LIMITS)
        ax.set_yticks(LEFT_TICKS)
        ax2.set_ylim(*RIGHT_LIMITS[i])
        ax2.set_yticks(RIGHT_TICKS[i])
        ax2.yaxis.set_major_formatter(FuncFormatter(num_label))
        for side in ("left", "top", "bottom"):
            ax.spines[side].set_color(FRAME)
            ax.spines[side].set_linewidth(0.8)
            ax2.spines[side].set_visible(False)
        ax.spines["right"].set_visible(False)
        ax2.spines["right"].set_color(RIGHT_AXIS)
        ax2.spines["right"].set_linewidth(0.9)
        ax2.tick_params(axis="y", direction="in", length=3.5, width=0.7,
                        colors=RIGHT_AXIS, labelsize=TICK_SIZE, pad=3)
        ax2.set_xlim(x_lo, x_hi)

    ax.set_xlim(x_lo, x_hi)
    ax.set_xticks(date_ticks)
    ax.xaxis.set_major_formatter(mdates.DateFormatter("%b %d, %Y"))
    ax.yaxis.set_major_formatter(FuncFormatter(num_label))
    ax.tick_params(axis="both", direction="in", length=3.5, width=0.7, color=FRAME,
                   labelcolor=TICK_TEXT, labelsize=TICK_SIZE, pad=3)
    ax.tick_params(axis="x", top=True, labeltop=False, pad=4)

    row = i // 3
    fig.text(TITLE_X[i] / W, 1 - TITLE_BASELINE[row] / H, title, ha="center", va="baseline",
             fontsize=22, fontweight="bold", family=["Liberation Serif", "DejaVu Serif"],
             color="black")

fig.savefig("out.png", dpi=100, facecolor="white")
